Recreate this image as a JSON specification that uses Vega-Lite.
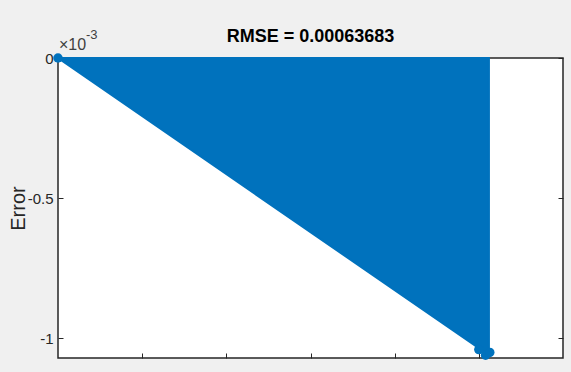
{
  "$schema": "https://vega.github.io/schema/vega-lite/v6.json",
  "width": 505,
  "height": 300,
  "autosize": "none",
  "padding": {"left": 58, "top": 58, "right": 8, "bottom": 14},
  "background": "#f0f0f0",
  "config": {
    "view": {"fill": "white", "stroke": "#262626", "strokeWidth": 1.5},
    "axis": {
      "domain": false,
      "grid": false,
      "tickColor": "#262626",
      "tickWidth": 1,
      "tickSize": -5,
      "labelFont": "Liberation Sans Narrow, Liberation Sans, Arial",
      "labelFontSize": 15,
      "labelColor": "#262626",
      "labelPadding": 10,
      "titleFont": "Liberation Sans, Arial",
      "titleFontSize": 20,
      "titleFontWeight": "normal",
      "titleColor": "#262626"
    }
  },
  "title": {
    "text": "RMSE = 0.00063683",
    "font": "Liberation Sans Narrow, Liberation Sans, Arial",
    "fontSize": 18,
    "fontWeight": "bold",
    "color": "#000000",
    "anchor": "middle",
    "offset": 12,
    "dy": 29
  },
  "datasets": {
    "envelope": [
      {"x": 0, "upper": 0, "lower": 0},
      {"x": 5.12, "upper": 0, "lower": -0.00106}
    ],
    "markers": [
      {"x": 0, "y": 0},
      {"x": 5.0, "y": -0.00104},
      {"x": 5.08, "y": -0.00106},
      {"x": 5.13, "y": -0.00105}
    ]
  },
  "resolve": {"axis": {"x": "independent", "y": "independent"}},
  "layer": [
    {
      "data": {"name": "envelope"},
      "mark": {"type": "area", "color": "#0072BD", "stroke": "#0072BD", "strokeWidth": 2},
      "encoding": {
        "x": {
          "field": "x", "type": "quantitative",
          "scale": {"domain": [0, 6], "nice": false, "zero": false},
          "axis": {"orient": "bottom", "values": [1, 2, 3, 4, 5], "labels": false, "title": null}
        },
        "y": {
          "field": "upper", "type": "quantitative",
          "scale": {"domain": [-0.00107, 0], "nice": false, "zero": false},
          "axis": {
            "orient": "left",
            "values": [0, -0.0005, -0.001],
            "labelExpr": "replace(format(datum.value * 1000, '~g'), '−', '-')",
            "title": "Error",
            "titlePadding": -1
          }
        },
        "y2": {"field": "lower"}
      }
    },
    {
      "data": {"name": "markers"},
      "mark": {"type": "point", "shape": "circle", "filled": true, "size": 90, "color": "#0072BD", "opacity": 1, "clip": false},
      "encoding": {
        "x": {
          "field": "x", "type": "quantitative",
          "axis": {"orient": "top", "values": [1, 2, 3, 4, 5], "labels": false, "title": null}
        },
        "y": {
          "field": "y", "type": "quantitative",
          "axis": {"orient": "right", "values": [0, -0.0005, -0.001], "labels": false, "title": null}
        }
      }
    },
    {
      "data": {"values": [{"t": "×10"}]},
      "mark": {"type": "text", "align": "left", "baseline": "alphabetic", "dx": 1, "dy": -8, "font": "Liberation Sans Narrow, Liberation Sans, Arial", "fontSize": 16, "color": "#404040"},
      "encoding": {
        "x": {"datum": 0, "type": "quantitative", "axis": null},
        "y": {"datum": 0, "type": "quantitative", "axis": null},
        "text": {"field": "t"}
      }
    },
    {
      "data": {"values": [{"t": "-3"}]},
      "mark": {"type": "text", "align": "left", "baseline": "alphabetic", "dx": 28, "dy": -19, "font": "Liberation Sans Narrow, Liberation Sans, Arial", "fontSize": 13, "color": "#404040"},
      "encoding": {
        "x": {"datum": 0, "type": "quantitative", "axis": null},
        "y": {"datum": 0, "type": "quantitative", "axis": null},
        "text": {"field": "t"}
      }
    }
  ]
}
